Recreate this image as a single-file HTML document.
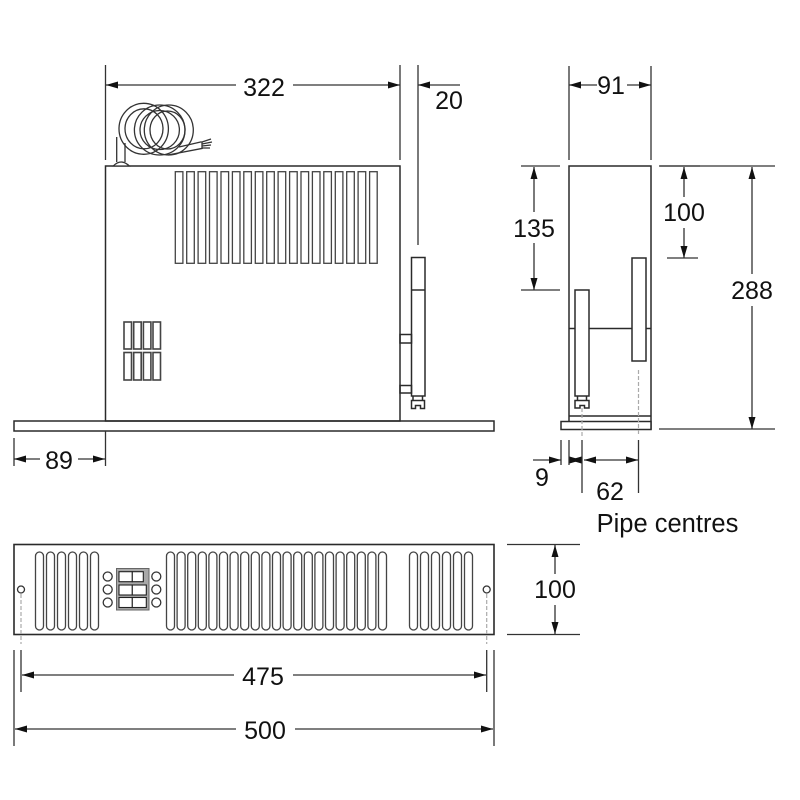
<!DOCTYPE html>
<html>
<head>
<meta charset="utf-8">
<style>
html,body{margin:0;padding:0;background:#fff}
svg{display:block}
text{font-family:"Liberation Sans",sans-serif;font-size:25px;fill:#111;text-anchor:middle}
.l{fill:none;stroke:#2a2a2a;stroke-width:1.5}
.d{fill:none;stroke:#333;stroke-width:1.3}
.g{fill:none;stroke:#aaa;stroke-width:1.2;stroke-dasharray:4 2}
.t{fill:none;stroke:#444;stroke-width:1.3}
.w{fill:#fff;stroke:#2a2a2a;stroke-width:1.5}
.a{fill:#111;stroke:none}
</style>
</head>
<body>
<svg width="800" height="800" viewBox="0 0 800 800" xmlns="http://www.w3.org/2000/svg">
<defs>
<path id="al" class="a" d="M0 0L12 -3.5V3.5Z"/>
<path id="ar" class="a" d="M0 0L-12 -3.5V3.5Z"/>
<path id="au" class="a" d="M0 0L-3.5 12H3.5Z"/>
<path id="ad" class="a" d="M0 0L-3.5 -12H3.5Z"/>
</defs>

<!-- FRONT VIEW -->
<rect class="l" x="105.5" y="166" width="294.5" height="255"/>
<rect class="l" x="14" y="421" width="480" height="10"/>
<!-- cable -->
<g fill="none" stroke="#333" stroke-width="1.3">
<ellipse cx="143.7" cy="128.8" rx="24.7" ry="25.5"/><ellipse cx="144" cy="128.8" rx="19" ry="20"/>
<ellipse cx="159.7" cy="130" rx="25.3" ry="25"/><ellipse cx="159.7" cy="130" rx="19.7" ry="19.5"/>
<ellipse cx="168.8" cy="130" rx="24.5" ry="25"/><ellipse cx="167.5" cy="130" rx="17.5" ry="19"/>
<path d="M116.7 137V162M125 143V162"/>
<path d="M179 147L201.7 141.7M168 155L202.7 148.3"/>
<path d="M202 142L211 139M202 144L212 142M202 146L211 145M202 148L210 148"/>
<path d="M202 141.7V148.3"/>
</g>
<path d="M113.3 166Q121 158 129.3 166Z" fill="#fff" stroke="#333" stroke-width="1.3"/>
<!-- top vents -->
<g class="t">
<rect x="175.3" y="171.7" width="7.6" height="91.6"/><rect x="186.7" y="171.7" width="7.6" height="91.6"/><rect x="198.1" y="171.7" width="7.6" height="91.6"/><rect x="209.5" y="171.7" width="7.6" height="91.6"/><rect x="221" y="171.7" width="7.6" height="91.6"/><rect x="232.4" y="171.7" width="7.6" height="91.6"/><rect x="243.8" y="171.7" width="7.6" height="91.6"/><rect x="255.3" y="171.7" width="7.6" height="91.6"/><rect x="266.7" y="171.7" width="7.6" height="91.6"/><rect x="278.1" y="171.7" width="7.6" height="91.6"/><rect x="289.6" y="171.7" width="7.6" height="91.6"/><rect x="301" y="171.7" width="7.6" height="91.6"/><rect x="312.4" y="171.7" width="7.6" height="91.6"/><rect x="323.8" y="171.7" width="7.6" height="91.6"/><rect x="335.3" y="171.7" width="7.6" height="91.6"/><rect x="346.7" y="171.7" width="7.6" height="91.6"/><rect x="358.1" y="171.7" width="7.6" height="91.6"/><rect x="369.6" y="171.7" width="7.6" height="91.6"/>
</g>
<!-- small vents -->
<g class="t" style="stroke-width:1.6">
<rect x="124" y="322" width="7.5" height="27"/><rect x="133.7" y="322" width="7.5" height="27"/><rect x="143.4" y="322" width="7.5" height="27"/><rect x="153" y="322" width="7.5" height="27"/>
<rect x="124" y="352.5" width="7.5" height="27.5"/><rect x="133.7" y="352.5" width="7.5" height="27.5"/><rect x="143.4" y="352.5" width="7.5" height="27.5"/><rect x="153" y="352.5" width="7.5" height="27.5"/>
</g>
<!-- front bracket -->
<rect class="l" x="411.5" y="257.5" width="13.5" height="138.5"/>
<path class="l" d="M411.5 290H425"/>
<rect class="l" x="400" y="334.5" width="11.5" height="8.5"/>
<rect class="l" x="400" y="385.5" width="11.5" height="7.5"/>
<path class="l" d="M413 396V400.5M422.5 396V400.5"/>
<path class="l" d="M411.5 400.5H424.5V408.5H420.5V405.5H415.5V408.5H411.5Z"/>

<!-- 322 dim -->
<path class="d" d="M105.5 65V160M400 65V160M418 65V245"/>
<path class="d" d="M106 85H236M293 85H400"/>
<use href="#al" x="106" y="85"/><use href="#ar" x="400" y="85"/>
<text x="264" y="96">322</text>
<path class="d" d="M418 85H460"/><use href="#al" x="418" y="85"/>
<text x="449" y="109">20</text>
<!-- 89 dim -->
<path class="d" d="M14 438V466M105.5 431V466"/>
<path class="d" d="M14 459H40M78 459H105"/>
<use href="#al" x="14" y="459"/><use href="#ar" x="105" y="459"/>
<text x="59" y="469">89</text>

<!-- END VIEW -->
<rect class="l" x="569" y="166" width="82" height="263"/>
<rect class="w" x="561" y="421.5" width="90" height="8"/>
<path class="l" d="M569 416H651"/>
<path class="l" d="M569 328.5H575M589 328.5H632M646 328.5H651"/>
<rect class="l" x="575" y="290" width="14" height="106"/>
<rect class="l" x="632" y="258" width="14" height="103"/>
<path class="l" d="M577.5 396V400M586.5 396V400"/>
<path class="l" d="M575 400.5H589V408H584.5V405.5H580V408H575Z"/>
<path class="g" d="M582 408V436M638.5 370V436"/>

<!-- 91 dim -->
<path class="d" d="M569 66V160M651 66V160"/>
<path class="d" d="M569 85H597M627 85H651"/>
<use href="#al" x="569" y="85"/><use href="#ar" x="651" y="85"/>
<text x="611" y="94">91</text>
<!-- 135 dim -->
<path class="d" d="M521 166H560M521 290H560"/>
<path class="d" d="M534 167V212M534 243V290"/>
<use href="#au" x="534" y="167"/><use href="#ad" x="534" y="290"/>
<text x="534" y="237">135</text>
<!-- 100 dim -->
<path class="d" d="M660 166H700M667 258H698"/>
<path class="d" d="M684 167V197M684 228V258"/>
<use href="#au" x="684" y="167"/><use href="#ad" x="684" y="258"/>
<text x="684" y="221">100</text>
<!-- 288 dim -->
<path class="d" d="M659 166H775M659 429H775"/>
<path class="d" d="M752 167V274M752 306V429"/>
<use href="#au" x="752" y="167"/><use href="#ad" x="752" y="429"/>
<text x="752" y="299">288</text>
<!-- 9 / 62 dims -->
<path class="d" d="M561 440V465M569 440V465M582 440V493M638.5 440V493"/>
<path class="d" d="M533 460H561M569 460H582M584 460H638"/>
<use href="#ar" x="561" y="460"/><use href="#al" x="569.5" y="460"/><use href="#ar" x="581.5" y="460"/><use href="#al" x="584" y="460"/><use href="#ar" x="638" y="460"/>
<text x="542" y="486">9</text>
<text x="610" y="500">62</text>
<text x="667.5" y="532" style="font-size:25.5px">Pipe centres</text>

<!-- PLAN VIEW -->
<rect x="14" y="544.5" width="480" height="90" fill="none" stroke="#2a2a2a" stroke-width="1.6"/>
<g class="t">
<rect x="35.5" y="552" width="8" height="78" rx="4"/><rect x="46.5" y="552" width="8" height="78" rx="4"/><rect x="57.5" y="552" width="8" height="78" rx="4"/><rect x="68.5" y="552" width="8" height="78" rx="4"/><rect x="79.5" y="552" width="8" height="78" rx="4"/><rect x="90.5" y="552" width="8" height="78" rx="4"/>
<rect x="166.5" y="552" width="8" height="78" rx="4"/><rect x="177.1" y="552" width="8" height="78" rx="4"/><rect x="187.7" y="552" width="8" height="78" rx="4"/><rect x="198.3" y="552" width="8" height="78" rx="4"/><rect x="208.9" y="552" width="8" height="78" rx="4"/><rect x="219.5" y="552" width="8" height="78" rx="4"/><rect x="230.1" y="552" width="8" height="78" rx="4"/><rect x="240.7" y="552" width="8" height="78" rx="4"/><rect x="251.3" y="552" width="8" height="78" rx="4"/><rect x="261.9" y="552" width="8" height="78" rx="4"/><rect x="272.5" y="552" width="8" height="78" rx="4"/><rect x="283.1" y="552" width="8" height="78" rx="4"/><rect x="293.7" y="552" width="8" height="78" rx="4"/><rect x="304.3" y="552" width="8" height="78" rx="4"/><rect x="314.9" y="552" width="8" height="78" rx="4"/><rect x="325.5" y="552" width="8" height="78" rx="4"/><rect x="336.1" y="552" width="8" height="78" rx="4"/><rect x="346.7" y="552" width="8" height="78" rx="4"/><rect x="357.3" y="552" width="8" height="78" rx="4"/><rect x="367.9" y="552" width="8" height="78" rx="4"/><rect x="378.5" y="552" width="8" height="78" rx="4"/>
<rect x="409.5" y="552" width="8" height="78" rx="4"/><rect x="420.5" y="552" width="8" height="78" rx="4"/><rect x="431.5" y="552" width="8" height="78" rx="4"/><rect x="442.5" y="552" width="8" height="78" rx="4"/><rect x="453.5" y="552" width="8" height="78" rx="4"/><rect x="464.5" y="552" width="8" height="78" rx="4"/>
</g>
<g fill="none" stroke="#333" stroke-width="1.3">
<circle cx="107.7" cy="576.5" r="4.5"/><circle cx="107.7" cy="589.5" r="4.5"/><circle cx="107.7" cy="602.5" r="4.5"/>
<circle cx="156.3" cy="576.5" r="4.5"/><circle cx="156.3" cy="589.5" r="4.5"/><circle cx="156.3" cy="602.5" r="4.5"/>
<circle cx="21" cy="589.5" r="3.5"/><circle cx="486.7" cy="589.5" r="3.5"/>
</g>
<rect x="116.5" y="568.5" width="32.5" height="41.5" fill="#a8a8a8" stroke="#666" stroke-width="1"/>
<g fill="#fff" stroke="#222" stroke-width="1.1">
<rect x="119" y="571.7" width="13.3" height="10"/><rect x="132.3" y="571.7" width="11" height="10"/>
<rect x="119" y="585" width="13.3" height="10"/><rect x="132.3" y="585" width="14" height="10"/>
<rect x="119" y="597.5" width="13.3" height="10"/><rect x="132.3" y="597.5" width="14" height="10"/>
</g>
<path class="g" d="M21 594V644M486.7 594V644"/>

<!-- 100 plan dim -->
<path class="d" d="M507 544.5H580M507 634.5H580"/>
<path class="d" d="M555 545V574M555 605V634"/>
<use href="#au" x="555" y="545"/><use href="#ad" x="555" y="634"/>
<text x="555" y="598">100</text>
<!-- 475 -->
<path class="d" d="M21 650V692M486.7 650V692"/>
<path class="d" d="M22 675H234M293 675H486"/>
<use href="#al" x="22" y="675"/><use href="#ar" x="486" y="675"/>
<text x="263" y="685">475</text>
<!-- 500 -->
<path class="d" d="M14 650V746M494 650V746"/>
<path class="d" d="M15 729H236M295 729H493"/>
<use href="#al" x="15" y="729"/><use href="#ar" x="493" y="729"/>
<text x="265" y="739">500</text>
</svg>
</body>
</html>
